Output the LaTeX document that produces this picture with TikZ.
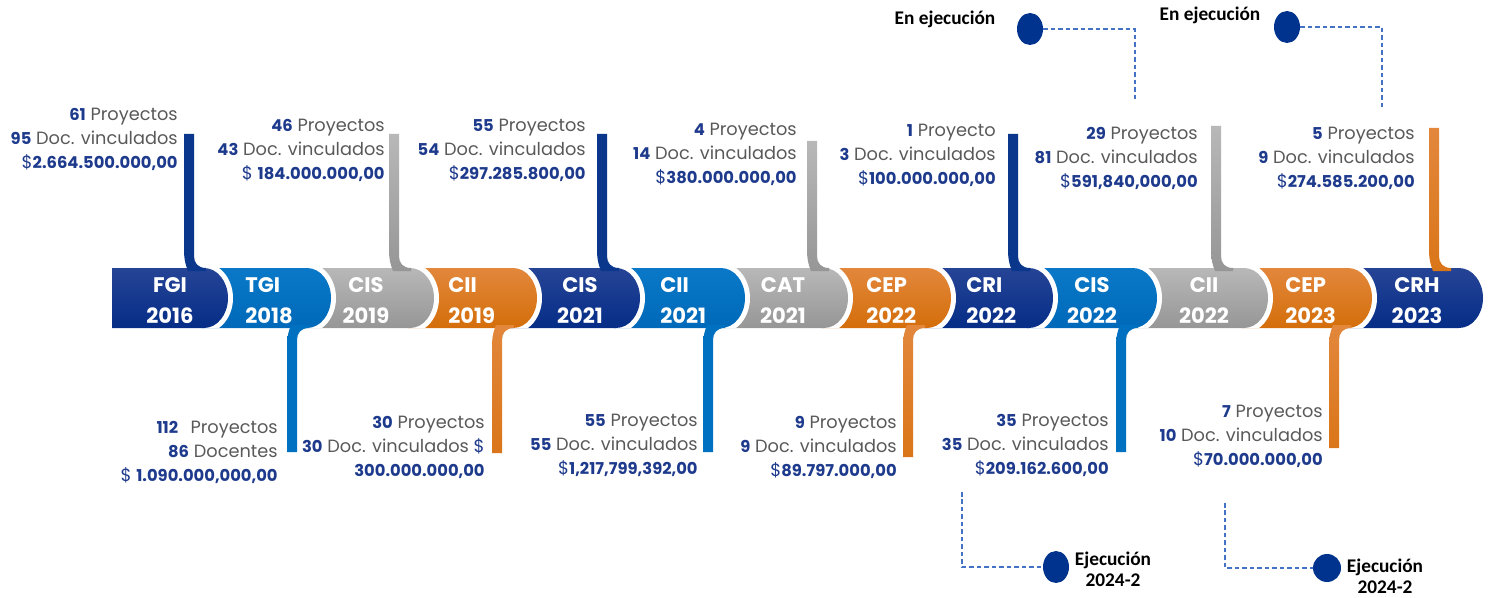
\documentclass[tikz,border=0pt]{standalone}
\usepackage{fontspec}
\setmainfont{Poppins}
\newfontfamily\calib{Carlito}
\usetikzlibrary{shapes.geometric}
\definecolor{navytop}{RGB}{38,68,150}
\definecolor{navybot}{RGB}{5,45,135}
\definecolor{bluetop}{RGB}{10,120,200}
\definecolor{bluebot}{RGB}{0,105,185}
\definecolor{graytop}{RGB}{184,184,184}
\definecolor{graybot}{RGB}{150,150,150}
\definecolor{orgtop}{RGB}{226,135,60}
\definecolor{orgbot}{RGB}{212,110,10}
\definecolor{navystem}{RGB}{10,55,140}
\definecolor{bluestem}{RGB}{0,112,192}
\definecolor{orgstem}{RGB}{218,118,25}
\definecolor{tblue}{RGB}{30,58,140}
\definecolor{tgray}{RGB}{89,89,89}
\definecolor{dotblue}{RGB}{0,51,141}
\definecolor{dashblue}{RGB}{68,114,196}
\newcommand{\bnum}[1]{{\fontsize{9.3}{11}\selectfont\bfseries\color{tblue}#1}}
\newcommand{\money}[1]{{\color{tblue}\$\bnum{#1}}}
\newcommand{\tlseg}[3]{%
  \pgfmathsetmacro{\tlcx}{#1-24}
  \fill[white] (\tlcx,298) ++(-59:29 and 35) arc[start angle=-59,end angle=59,x radius=29,y radius=35] -- (\tlcx,328) -- (\tlcx,268) -- cycle;
  \shade[top color=#3top,bottom color=#3bot] (#2,268) -- (\tlcx,268) arc[start angle=-90,end angle=90,x radius=24,y radius=30] -- (#2,328) -- cycle;}
\newcommand{\upstem}[4]{%
  \shade[top color=#3,bottom color=#4] ({#1-5},#2) -- ({#1-5},250) .. controls ({#1-5},260) and ({#1-3},266) .. ({#1-1},271) -- ({#1+17},271) -- ({#1+17},268) .. controls ({#1+9},268) and ({#1+5},263) .. ({#1+5},256) -- ({#1+5},#2) -- cycle;}
\newcommand{\dnstem}[4]{%
  \shade[top color=#3,bottom color=#4] ({#1-5},#2) -- ({#1-5},346) .. controls ({#1-5},336) and ({#1-3},330) .. ({#1-1},325) -- ({#1+17},325) -- ({#1+17},328) .. controls ({#1+9},328) and ({#1+5},333) .. ({#1+5},340) -- ({#1+5},#2) -- cycle;}
\newcommand{\infoblk}[6]{%
  \node[info] (#1a) at (#2,#3) {#4};
  \node[info] (#1b) at (#2,{#3+24}) {#5};
  \node[info] (#1c) at (#2,{#3+48}) {#6};}
\begin{document}
\begin{tikzpicture}[x=0.02cm,y=-0.02cm,
  info/.style={anchor=base east,inner sep=0pt,font=\fontsize{10.1}{11}\selectfont,text=tgray},
  ttl/.style={anchor=base,inner sep=0pt,text=white,font=\fontsize{12}{14}\selectfont\bfseries},
  ttlw/.style={ttl,anchor=base west},
  dot/.style={ellipse,fill=dotblue,inner sep=0pt,minimum width=0.52cm,minimum height=0.64cm},
  dsh/.style={draw=dashblue,line width=0.6pt,dash pattern=on 0.09cm off 0.06cm},
  ejec/.style={inner sep=0pt,font=\calib\bfseries\fontsize{11}{12}\selectfont,text=black}]
\useasboundingbox (0,0) rectangle (1489,598);
% band segments, right to left
\tlseg{1483}{1346}{navy}
\tlseg{1372}{1242}{org}
\tlseg{1268}{1131}{gray}
\tlseg{1157}{1027}{blue}
\tlseg{1053}{925}{navy}
\tlseg{951}{822}{org}
\tlseg{848}{719}{gray}
\tlseg{745}{614}{blue}
\tlseg{640}{511}{navy}
\tlseg{537}{408}{org}
\tlseg{434}{305}{gray}
\tlseg{331}{202}{blue}
\tlseg{228}{112}{navy}
% stems
\upstem{189}{134}{navystem}{navystem}
\upstem{394}{134}{graytop}{graybot}
\upstem{602}{134}{navystem}{navystem}
\upstem{812}{141}{graytop}{graybot}
\upstem{1013}{134}{navystem}{navystem}
\upstem{1216}{126}{graytop}{graybot}
\upstem{1434}{128}{orgtop}{orgstem}
\dnstem{292}{452}{bluestem}{bluestem}
\dnstem{497}{453}{orgtop}{orgstem}
\dnstem{708}{452}{bluestem}{bluestem}
\dnstem{908}{457}{orgtop}{orgstem}
\dnstem{1121}{452}{bluestem}{bluestem}
\dnstem{1334}{448}{orgtop}{orgstem}
% titles
\node[ttl] (t1a) at (170,293) {FGI};   \node[ttl] (t1b) at (170,323) {2016};
\node[ttlw] (t2a) at (245,293) {TGI};  \node[ttlw] (t2b) at (245,323) {2018};
\node[ttl] (t3a) at (366,293) {CIS};   \node[ttl] (t3b) at (366,323) {2019};
\node[ttlw] (t4a) at (448,293) {CII};  \node[ttlw] (t4b) at (448,323) {2019};
\node[ttl] (t5a) at (580,293) {CIS};   \node[ttl] (t5b) at (580,323) {2021};
\node[ttlw] (t6a) at (660,293) {CII};  \node[ttlw] (t6b) at (660,323) {2021};
\node[ttl] (t7a) at (783,293) {CAT};   \node[ttl] (t7b) at (783,323) {2021};
\node[ttlw] (t8a) at (866,293) {CEP};  \node[ttlw] (t8b) at (866,323) {2022};
\node[ttlw] (t9a) at (966,293) {CRI};  \node[ttlw] (t9b) at (966,323) {2022};
\node[ttl] (t10a) at (1092,293) {CIS}; \node[ttl] (t10b) at (1092,323) {2022};
\node[ttl] (t11a) at (1204,293) {CII}; \node[ttl] (t11b) at (1204,323) {2022};
\node[ttlw] (t12a) at (1285,293) {CEP}; \node[ttlw] (t12b) at (1285,323) {2023};
\node[ttl] (t13a) at (1417,293) {CRH}; \node[ttl] (t13b) at (1417,323) {2023};
% info blocks top
\infoblk{i1}{178}{121}{\bnum{61} Proyectos}{\bnum{95} Doc. vinculados}{\money{2.664.500.000,00}}
\infoblk{i3}{385}{132}{\bnum{46} Proyectos}{\bnum{43} Doc. vinculados}{{\color{tblue}\$ \bnum{184.000.000,00}}}
\infoblk{i5}{586}{132}{\bnum{55} Proyectos}{\bnum{54} Doc. vinculados}{\money{297.285.800,00}}
\infoblk{i7}{797}{136}{\bnum{4} Proyectos}{\bnum{14} Doc. vinculados}{\money{380.000.000,00}}
\infoblk{i9}{996}{137}{\bnum{1} Proyecto}{\bnum{3} Doc. vinculados}{\money{100.000.000,00}}
\infoblk{i11}{1198}{140}{\bnum{29} Proyectos}{\bnum{81} Doc. vinculados}{\money{591,840,000,00}}
\infoblk{i13}{1415}{140}{\bnum{5} Proyectos}{\bnum{9} Doc. vinculados}{\money{274.585.200,00}}
% info blocks bottom
\infoblk{i2}{278}{433}{\bnum{112}\hspace{0.7em}Proyectos}{\bnum{86} Docentes}{{\color{tblue}\$ \bnum{1.090.000,000,00}}}
\infoblk{i4}{485}{428}{\bnum{30} Proyectos}{\bnum{30} Doc. vinculados {\color{tblue}\$}}{\bnum{300.000.000,00}}
\infoblk{i6}{698}{426}{\bnum{55} Proyectos}{\bnum{55} Doc. vinculados}{\money{1,217,799,392,00}}
\infoblk{i8}{897}{428}{\bnum{9} Proyectos}{\bnum{9} Doc. vinculados}{\money{89.797.000,00}}
\infoblk{i10}{1109}{426}{\bnum{35} Proyectos}{\bnum{35} Doc. vinculados}{\money{209.162.600,00}}
\infoblk{i12}{1323}{417}{\bnum{7} Proyectos}{\bnum{10} Doc. vinculados}{\money{70.000.000,00}}
% execution markers
\node[dot] (e1) at (1030,29) {};
\coordinate (c1) at (1135,102);
\draw[dsh] (e1.east) -| (c1);
\node[ejec] (x1) at (945,19) {En ejecución};
\node[dot] (e2) at (1287,27) {};
\coordinate (c2) at (1382,108);
\draw[dsh] (e2.east) -| (c2);
\node[ejec] (x2) at (1210,15) {En ejecución};
\node[dot] (e3) at (1056,567) {};
\coordinate (c3) at (962,492);
\draw[dsh] (c3) |- (e3.west);
\node[ejec,align=center] (x3) at (1113,569) {Ejecución\\2024-2};
\node[dot,minimum width=0.56cm,minimum height=0.56cm] (e4) at (1327,568) {};
\coordinate (c4) at (1225,503);
\draw[dsh] (c4) |- (e4.west);
\node[ejec,align=center] (x4) at (1385,576) {Ejecución\\2024-2};
\end{tikzpicture}
\end{document}
